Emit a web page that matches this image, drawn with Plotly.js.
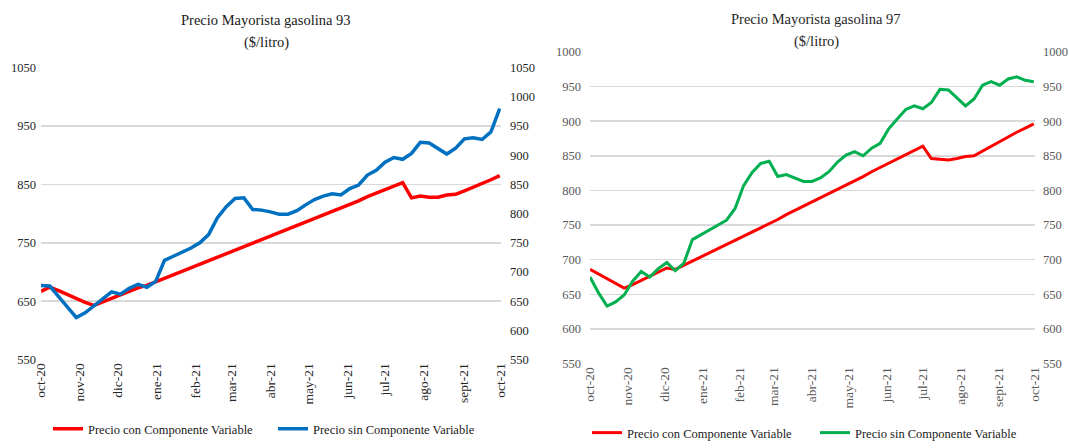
<!DOCTYPE html>
<html>
<head>
<meta charset="utf-8">
<script src="https://cdn.plot.ly/plotly-3.0.1.min.js"></script>
<style>html,body{margin:0;padding:0;background:#fff;}#chart{width:1069px;height:448px;}</style>
</head>
<body>
<div id="chart"></div>
<script>
const dates = ['2020-10-01','2020-10-08','2020-10-15','2020-10-22','2020-10-29','2020-11-05','2020-11-12','2020-11-19','2020-11-26','2020-12-03','2020-12-10','2020-12-17','2020-12-24','2020-12-31','2021-01-07','2021-01-14','2021-01-21','2021-01-28','2021-02-04','2021-02-11','2021-02-18','2021-02-25','2021-03-04','2021-03-11','2021-03-18','2021-03-25','2021-04-01','2021-04-08','2021-04-15','2021-04-22','2021-04-29','2021-05-06','2021-05-13','2021-05-20','2021-05-27','2021-06-03','2021-06-10','2021-06-17','2021-06-24','2021-07-01','2021-07-08','2021-07-15','2021-07-22','2021-07-29','2021-08-05','2021-08-12','2021-08-19','2021-08-26','2021-09-02','2021-09-09','2021-09-16','2021-09-23','2021-09-30'];

const con93 = [667,674,668,661,655,648,643,649,655,661,666,673,677,683,689,695,701,707,713,719,725,731,738,744,750,756,762,768,774,780,786,792,798,804,810,816,822,829,835,841,847,853,827,830,828,828,832,833,839,845,852,858,865];
const sin93 = [677,676,658,640,622,630,642,655,666,662,672,679,674,684,720,727,734,741,750,764,793,812,826,827,807,806,803,799,799,805,815,824,830,834,832,843,849,866,874,888,896,893,903,922,921,911,902,912,928,930,927,940,980];
const con97 = [686,679,672,666,659,664,670,676,682,688,686,692,697,703,709,715,721,728,734,740,746,752,758,765,771,777,783,789,796,802,808,814,820,827,833,839,845,851,858,864,846,845,844,846,849,850,857,864,871,877,884,890,896];
const sin97 = [675,652,633,639,649,669,683,675,687,696,684,695,729,736,742,749,757,774,807,826,839,842,820,823,818,813,813,818,827,841,851,856,850,861,868,889,903,917,922,918,927,946,945,934,922,932,952,957,952,961,964,959,957];

const monthVals = ['2020-10-01','2020-11-01','2020-12-01','2021-01-01','2021-02-01','2021-03-01','2021-04-01','2021-05-01','2021-06-01','2021-07-01','2021-08-01','2021-09-01','2021-10-01'];
const monthText = ['oct-20','nov-20','dic-20','ene-21','feb-21','mar-21','abr-21','may-21','jun-21','jul-21','ago-21','sept-21','oct-21'];

const seriesNames = ['Precio con Componente Variable','Precio sin Componente Variable'];
const titles93 = ['Precio Mayorista gasolina 93','($/litro)'];
const titles97 = ['Precio Mayorista gasolina 97','($/litro)'];

const W = 1069, H = 448;
const px = v => v / W;
const py = v => 1 - v / H;
const FONT = 'Liberation Serif';

const traces = [
  {x: dates, y: con93, name: seriesNames[0], type: 'scatter', mode: 'lines', xaxis: 'x', yaxis: 'y', line: {color: '#FF0000', width: 3.5}, legend: 'legend'},
  {x: dates, y: sin93, name: seriesNames[1], type: 'scatter', mode: 'lines', xaxis: 'x', yaxis: 'y', line: {color: '#0070C0', width: 3.5}, legend: 'legend2'},
  {x: dates, y: con97, name: seriesNames[0], type: 'scatter', mode: 'lines', xaxis: 'x2', yaxis: 'y3', line: {color: '#FF0000', width: 3}, legend: 'legend3'},
  {x: dates, y: sin97, name: seriesNames[1], type: 'scatter', mode: 'lines', xaxis: 'x2', yaxis: 'y3', line: {color: '#00B050', width: 3}, legend: 'legend4'},
  // invisible companions so the secondary (right-hand) axes are drawn
  {x: dates, y: sin93, type: 'scatter', mode: 'lines', xaxis: 'x', yaxis: 'y2', opacity: 0, line: {width: 0}, showlegend: false, hoverinfo: 'skip'},
  {x: dates, y: sin97, type: 'scatter', mode: 'lines', xaxis: 'x2', yaxis: 'y4', opacity: 0, line: {width: 0}, showlegend: false, hoverinfo: 'skip'}
];

function xax(d0, d1, anchor, col) {
  return {domain: [px(d0), px(d1)], anchor: anchor, type: 'date',
    range: ['2020-10-01', '2021-10-01'], tickmode: 'array', tickvals: monthVals, ticktext: monthText,
    tickangle: -90, showgrid: false, zeroline: false, showline: false, ticks: '',
    tickfont: {family: FONT, size: 13.5, color: col}, fixedrange: true};
}
function yax(top, bot, lo, hi, step, grid, side, col, extra) {
  return Object.assign({domain: [py(bot), py(top)], range: [lo, hi], tick0: lo, dtick: step,
    showgrid: grid, gridcolor: '#d9d9d9', gridwidth: 1.5, zeroline: false, showline: false, ticks: '',
    side: side, tickfont: {family: FONT, size: 12.5, color: col}, fixedrange: true}, extra || {});
}

function leg(x, y) {
  return {x: px(x), y: py(y), xanchor: 'left', yanchor: 'middle', orientation: 'h',
    bgcolor: 'rgba(0,0,0,0)', borderwidth: 0, font: {family: FONT, size: 12.5, color: '#1a1a1a'}};
}

function ann(text, x, y, col) {
  return {text: text, x: px(x), y: py(y), xref: 'paper', yref: 'paper', showarrow: false,
    xanchor: 'center', yanchor: 'middle', font: {family: FONT, size: 14.5, color: col}};
}

const layout = {
  width: W, height: H, margin: {l: 0, r: 0, t: 0, b: 0},
  font: {family: FONT, size: 12.5, color: '#262626'},
  paper_bgcolor: '#ffffff', plot_bgcolor: '#ffffff', showlegend: true,
  xaxis: xax(41, 501, 'y', '#262626'),
  yaxis: yax(69, 367, 550, 1050, 100, true, 'left', '#262626', {anchor: 'x', ticklabelstandoff: 4}),
  yaxis2: yax(69, 367, 550, 1050, 50, false, 'right', '#262626', {overlaying: 'y', anchor: 'x', ticklabelstandoff: 8}),
  xaxis2: xax(590, 1035, 'y3', '#595959'),
  yaxis3: yax(53, 371, 550, 1000, 50, true, 'left', '#595959', {anchor: 'x2', ticklabelstandoff: 8}),
  yaxis4: yax(53, 371, 550, 1000, 50, false, 'right', '#595959', {overlaying: 'y3', anchor: 'x2', ticklabelstandoff: 7}),
  legend: leg(48, 438),
  legend2: leg(273, 438),
  legend3: leg(587, 442),
  legend4: leg(815, 442),
  annotations: [
    ann(titles93[0], 266, 20, '#1a1a1a'), ann(titles93[1], 266, 43, '#1a1a1a'),
    ann(titles97[0], 816, 19, '#262626'), ann(titles97[1], 816, 42, '#262626')
  ]
};

Plotly.newPlot('chart', traces, layout, {displayModeBar: false, staticPlot: true});
</script>
</body>
</html>
